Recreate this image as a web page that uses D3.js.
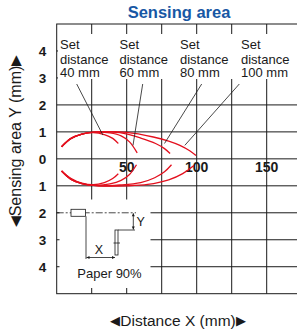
<!DOCTYPE html>
<html>
<head>
<meta charset="utf-8">
<script src="https://cdn.jsdelivr.net/npm/d3@7"></script>
<style>
  body { margin: 0; background: #fff; }
  svg { font-family: "Liberation Sans", Arial, sans-serif; }
</style>
</head>
<body>
<div id="chart"></div>
<script>
// data
const setDistances = [40, 60, 80, 100];
const xTicks = [50, 100, 150];
const yTicks = [-4, -3, -2, -1, 0, 1, 2, 3, 4];

// upper half of each curve, [distance X mm, area Y mm]
const upper40 = [[3.5, 0.45], [10, 0.75], [18, 0.92], [26, 0.97], [34, 0.9], [40, 0.76], [44, 0.57]];
const upper60 = [[3.5, 0.45], [10, 0.75], [18, 0.92], [28, 0.99], [38, 0.96], [46, 0.85], [52, 0.63], [57.5, 0.22]];
const upper80 = [[3.5, 0.45], [10, 0.75], [18, 0.92], [30, 1.0], [45, 0.97], [60, 0.77], [71, 0.56], [77, 0.38], [81, 0.2]];
const upper100 = [[3.5, 0.45], [10, 0.75], [18, 0.92], [30, 1.0], [50, 0.98], [69, 0.81], [80, 0.66], [88, 0.5], [95, 0.3], [99.5, 0.12]];

// lower half of each curve
const lower40 = [[3.5, -0.45], [10, -0.72], [18, -0.9], [26, -0.96], [34, -0.88], [40, -0.73], [44, -0.55]];
const lower60 = [[3.5, -0.45], [10, -0.75], [18, -0.92], [28, -0.98], [38, -0.93], [46, -0.8], [52, -0.58], [57, -0.22]];
const lower80 = [[3.5, -0.45], [10, -0.75], [18, -0.92], [30, -1.0], [45, -0.97], [60, -0.88], [70, -0.7], [77, -0.48], [82, -0.22]];
const lower100 = [[3.5, -0.45], [10, -0.75], [18, -0.92], [30, -1.0], [50, -1.0], [65, -0.95], [80, -0.78], [90, -0.55], [98, -0.25]];

const upperCurves = [upper40, upper60, upper80, upper100];
const lowerCurves = [lower40, lower60, lower80, lower100];

// where each leader line touches its curve (x mm, y mm)
const leaderTargets = [[33, 0.88], [54.5, 0.5], [77, 0.57], [91.5, 0.5]];

//svg setup
const svgWidth = 297;
const svgHeight = 331;
const margin = {top: 24, left: 56.7};

const svg = d3.select('#chart')
  .append('svg')
  .attr('width', svgWidth)
  .attr('height', svgHeight);

const xScale = d3.scaleLinear().domain([0, 175]).range([margin.left, margin.left + 245]);
const yScale = d3.scaleLinear().domain([-5, 5]).range([293.7, 24]);

const ink = '#1a1a1a';

//grid
const gridG = svg.append('g');
gridG.selectAll('line.vx')
  .data(d3.range(25, 176, 25))
  .enter()
  .append('line')
  .attr('x1', d => xScale(d)).attr('x2', d => xScale(d))
  .attr('y1', yScale(5)).attr('y2', yScale(-5))
  .attr('stroke', ink).attr('stroke-width', 1);

gridG.selectAll('line.hy')
  .data(yTicks)
  .enter()
  .append('line')
  .attr('x1', xScale(0)).attr('x2', xScale(175))
  .attr('y1', d => yScale(d)).attr('y2', d => yScale(d))
  .attr('stroke', ink).attr('stroke-width', 1);

//white boxes that cover the grid behind the labels and the sketch
svg.append('rect')
  .attr('x', 58).attr('y', 34).attr('width', 240).attr('height', 45)
  .attr('fill', '#fff');
svg.append('rect')
  .attr('x', 59.5).attr('y', 199.5).attr('width', 91).attr('height', 88.5)
  .attr('fill', '#fff');

//frame
svg.append('rect')
  .attr('x', xScale(0)).attr('y', yScale(5))
  .attr('width', xScale(175) - xScale(0)).attr('height', yScale(-5) - yScale(5))
  .attr('fill', 'none').attr('stroke', ink).attr('stroke-width', 1);

//tick labels
svg.append('g').selectAll('text')
  .data(yTicks)
  .enter()
  .append('text')
  .attr('x', 42.5)
  .attr('y', d => yScale(d) + 5)
  .attr('text-anchor', 'middle')
  .attr('font-size', 13.5)
  .attr('font-weight', 'bold')
  .attr('fill', ink)
  .text(d => Math.abs(d));

svg.append('g').selectAll('text')
  .data(xTicks)
  .enter()
  .append('text')
  .attr('x', d => xScale(d))
  .attr('y', yScale(0) + 13)
  .attr('text-anchor', 'middle')
  .attr('font-size', 14)
  .attr('font-weight', 'bold')
  .attr('fill', ink)
  .text(d => d);

//curves
const line = d3.line()
  .x(d => xScale(d[0]))
  .y(d => yScale(d[1]))
  .curve(d3.curveCatmullRom.alpha(0.5));

svg.append('g').selectAll('path')
  .data(upperCurves.concat(lowerCurves))
  .enter()
  .append('path')
  .attr('d', line)
  .attr('fill', 'none')
  .attr('stroke', '#e3101e')
  .attr('stroke-width', 1.3);

//set distance labels
const labelX = [60, 119.5, 180, 241];
const labelG = svg.append('g')
  .selectAll('text')
  .data(setDistances)
  .enter()
  .append('text')
  .attr('font-size', 13)
  .attr('fill', ink);
labelG.append('tspan').attr('x', (d, i) => labelX[i]).attr('y', 49).text('Set');
labelG.append('tspan').attr('x', (d, i) => labelX[i]).attr('y', 63.5).text('distance');
labelG.append('tspan').attr('x', (d, i) => labelX[i]).attr('y', 77).text(d => `${d} mm`);

//leader lines
const leaderStartX = [76.7, 142.7, 201.7, 239.3];
svg.append('g').selectAll('line')
  .data(leaderTargets)
  .enter()
  .append('line')
  .attr('x1', (d, i) => leaderStartX[i]).attr('y1', 84)
  .attr('x2', d => xScale(d[0])).attr('y2', d => yScale(d[1]))
  .attr('stroke', ink).attr('stroke-width', 0.8);

//small sketch of the setup
const sk = svg.append('g').attr('stroke', ink).attr('fill', 'none').attr('stroke-width', 0.8);
const axisY = yScale(-2);
sk.append('line')
  .attr('x1', xScale(0)).attr('x2', 136).attr('y1', axisY).attr('y2', axisY)
  .attr('stroke-dasharray', '7,2,2,2');
sk.append('rect').attr('x', 71).attr('y', axisY - 3.5).attr('width', 14.5).attr('height', 7).attr('fill', '#fff');
sk.append('line').attr('x1', 86).attr('x2', 86).attr('y1', axisY + 3.5).attr('y2', 259);
sk.append('rect').attr('x', 115).attr('y', 230).attr('width', 3).attr('height', 25).attr('fill', '#fff');
sk.append('line').attr('x1', 113.5).attr('x2', 120).attr('y1', 243).attr('y2', 243);
sk.append('line').attr('x1', 118).attr('x2', 135).attr('y1', 230).attr('y2', 230);

function arrowHead(g, x, y, dir) {
  // dir: 'l','r','u','d'
  const s = 3;
  let pts;
  if (dir === 'l') pts = [[x, y], [x + s, y - 1.5], [x + s, y + 1.5]];
  if (dir === 'r') pts = [[x, y], [x - s, y - 1.5], [x - s, y + 1.5]];
  if (dir === 'u') pts = [[x, y], [x - 1.5, y + s], [x + 1.5, y + s]];
  if (dir === 'd') pts = [[x, y], [x - 1.5, y - s], [x + 1.5, y - s]];
  g.append('polygon').attr('points', pts.join(' ')).attr('fill', ink).attr('stroke', 'none');
}
sk.append('line').attr('x1', 86.5).attr('x2', 115).attr('y1', 257.5).attr('y2', 257.5);
arrowHead(sk, 86.5, 257.5, 'l');
arrowHead(sk, 115, 257.5, 'r');
sk.append('line').attr('x1', 133.3).attr('x2', 133.3).attr('y1', axisY + 0.5).attr('y2', 229.5);
arrowHead(sk, 133.3, axisY + 0.5, 'u');
arrowHead(sk, 133.3, 229.5, 'd');

svg.append('text').attr('x', 99).attr('y', 254).attr('text-anchor', 'middle')
  .attr('font-size', 12.5).attr('fill', ink).text('X');
svg.append('text').attr('x', 136.5).attr('y', 226).attr('font-size', 12.5)
  .attr('fill', ink).text('Y');
svg.append('text').attr('x', 109.5).attr('y', 278).attr('text-anchor', 'middle')
  .attr('font-size', 13).attr('fill', ink).text('Paper 90%');

//title and axis titles
svg.append('text')
  .attr('x', 179).attr('y', 18)
  .attr('text-anchor', 'middle')
  .attr('font-size', 16.5).attr('font-weight', 'bold')
  .attr('fill', '#1857a4')
  .text('Sensing area');

const xTitle = svg.append('text')
  .attr('x', 178).attr('y', 326)
  .attr('text-anchor', 'middle')
  .attr('font-size', 15.5).attr('fill', ink);
xTitle.append('tspan').attr('font-size', 13).attr('dy', -1).text('◀');
xTitle.append('tspan').attr('dy', 1).text('Distance X (mm)');
xTitle.append('tspan').attr('font-size', 13).attr('dy', -1).text('▶');

const yTitle = svg.append('text')
  .attr('transform', 'translate(20.5, 141) rotate(-90)')
  .attr('text-anchor', 'middle')
  .attr('font-size', 16).attr('fill', ink);
yTitle.append('tspan').attr('font-size', 13.5).attr('dy', -1).text('◀');
yTitle.append('tspan').attr('dy', 1).text('Sensing area Y (mm)');
yTitle.append('tspan').attr('font-size', 13.5).attr('dy', -1).text('▶');
</script>
</body>
</html>
